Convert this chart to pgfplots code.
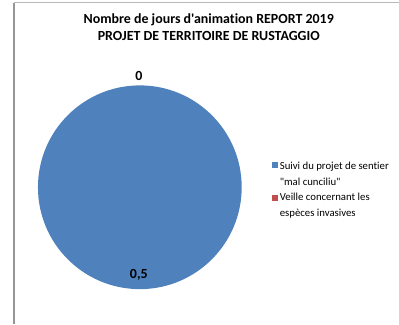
\documentclass[border=0pt]{standalone}
\usepackage{pgfplots}
\pgfplotsset{compat=1.18}
\usepackage{pgfplotstable}
\usepackage{fontspec}
\setmainfont{Carlito}[Ligatures={TeXOff,CommonOff}]
\definecolor{pieblue}{RGB}{79,129,189}
\definecolor{piered}{RGB}{192,80,77}
\definecolor{framegray}{RGB}{150,150,150}
\definecolor{framegraylt}{RGB}{185,185,185}
\pgfplotstableread[col sep=comma]{
label,value
Suivi,0.5
Veille,0
}\piedata
\pgfplotstablegetelem{0}{value}\of\piedata \let\va\pgfplotsretval
\pgfplotstablegetelem{1}{value}\of\piedata \let\vb\pgfplotsretval
\pgfmathsetmacro{\tot}{\va+\vb}
\pgfmathsetmacro{\angb}{360*\vb/\tot}
\newif\ifredslice
\ifdim\angb pt>0pt \redslicetrue\else\redslicefalse\fi
\begin{document}
\begin{tikzpicture}
\begin{axis}[
  scale only axis, width=399bp, height=324bp,
  xmin=0, xmax=399, ymin=0, ymax=324, y dir=reverse,
  hide axis, clip=false,
]
% full picture area (keeps the page at 399x324)
\path (axis cs:0,0) rectangle (axis cs:399,324);
% frame (left and top edges)
\draw[framegray, line width=1.2bp] (axis cs:14,324) -- (axis cs:14,3);
\draw[framegraylt, line width=1bp] (axis cs:14,3) -- (axis cs:399,3);
% pie: first slice (0,5) covers the whole circle, second slice (0) is empty
\fill[pieblue] (axis cs:140,187.5) circle[radius=102bp];
\ifredslice
\fill[piered] (axis cs:140,187.5) -- ++(90:102bp) arc[start angle=90, delta angle=-\angb, radius=102bp] -- cycle;
\fi
% data labels
\node[font=\bfseries\fontsize{14}{16}\selectfont] at (axis cs:139,76) {0};
\node[font=\bfseries\fontsize{14}{16}\selectfont] at (axis cs:139,275) {0,5};
% title
\node[font=\bfseries\fontsize{14}{17}\selectfont, align=center] at (axis cs:209,27) {Nombre de jours d'animation REPORT 2019\\PROJET DE TERRITOIRE DE RUSTAGGIO};
% legend
\fill[pieblue] (axis cs:272,162) rectangle (axis cs:278,168);
\node[anchor=west, font=\fontsize{10.8}{15.5}\selectfont, align=left, inner sep=0pt] at (axis cs:280,174) {Suivi du projet de sentier\\"mal cunciliu"};
\fill[piered] (axis cs:272,195) rectangle (axis cs:278,201);
\node[anchor=west, font=\fontsize{10.8}{15.5}\selectfont, align=left, inner sep=0pt] at (axis cs:280,206) {Veille concernant les\\espèces invasives};
\end{axis}
\end{tikzpicture}
\end{document}
